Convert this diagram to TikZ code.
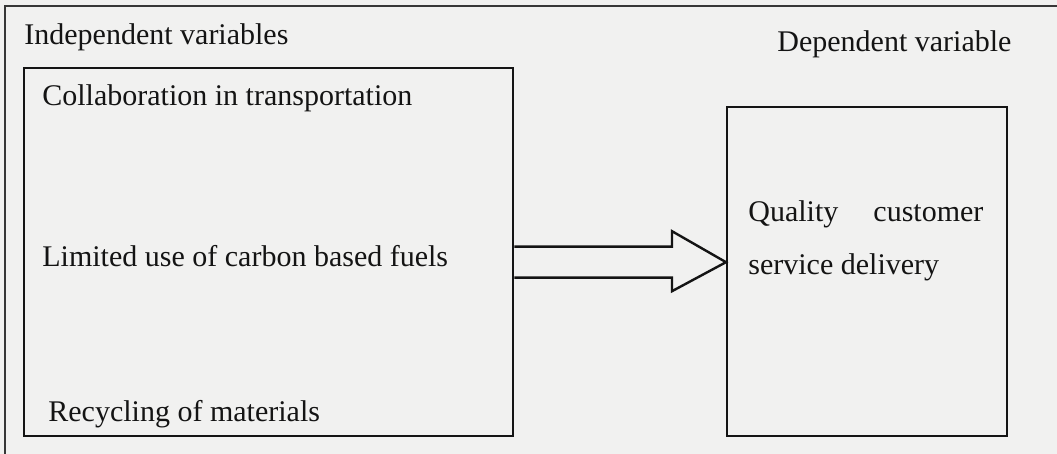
\documentclass[tikz,border=0pt]{standalone}
\usepackage{fontspec}
\setmainfont{Liberation Serif}
\usepackage{tikz}
\usetikzlibrary{calc}
\definecolor{paper}{RGB}{241,241,240}
\definecolor{ink}{RGB}{20,20,20}

\begin{document}
\begin{tikzpicture}[x=0.5pt, y=-0.5pt,
    box/.style={draw=ink, line width=1.2pt, inner sep=0pt, anchor=north west},
    lbl/.style={inner sep=0pt, anchor=base west, text=ink, font=\fontsize{15}{26.5}\selectfont},
    blockarr/.style={draw=ink, line width=1.2pt, line join=miter}]
  % Page
  \fill[paper] (0,0) rectangle (1057,454);
  \useasboundingbox (0,0) rectangle (1057,454);
  \draw[ink!85, line width=1.1pt] (1057,6) -- (5,6) -- (5,454);
  % Headings
  \node[lbl] (indeplbl) at (24,45) {Independent variables};
  \node[lbl] (deplbl) at (777,52) {Dependent variable};
  % Independent variables
  \node[box, minimum width=244.5pt, minimum height=184pt] (indepbox) at (23,67) {};
  \node[lbl] (collab) at (42,106) {Collaboration in transportation};
  \node[lbl] (fuels) at (42,267) {Limited use of carbon based fuels};
  \node[lbl] (recycle) at (48,422) {Recycling of materials};
  % Dependent variable
  \node[box, minimum width=140pt, minimum height=164.5pt] (depbox) at (726,106) {};
  \node[lbl, align=left] (quality) at (748,275)
    {\makebox[117.5pt][s]{Quality customer}\\service delivery};
  % Block arrow
  \coordinate (arrtail) at ($(indepbox.east)+(0,10)$);
  \coordinate (arrtip) at (depbox.west |- arrtail);
  \draw[blockarr] ($(arrtail)+(0,-15.5)$) -- ($(arrtip)+(-54,-15.5)$)
    -- ($(arrtip)+(-54,-31)$) -- (arrtip) -- ($(arrtip)+(-54,29)$)
    -- ($(arrtip)+(-54,15.5)$) -- ($(arrtail)+(0,15.5)$);
\end{tikzpicture}
\end{document}
